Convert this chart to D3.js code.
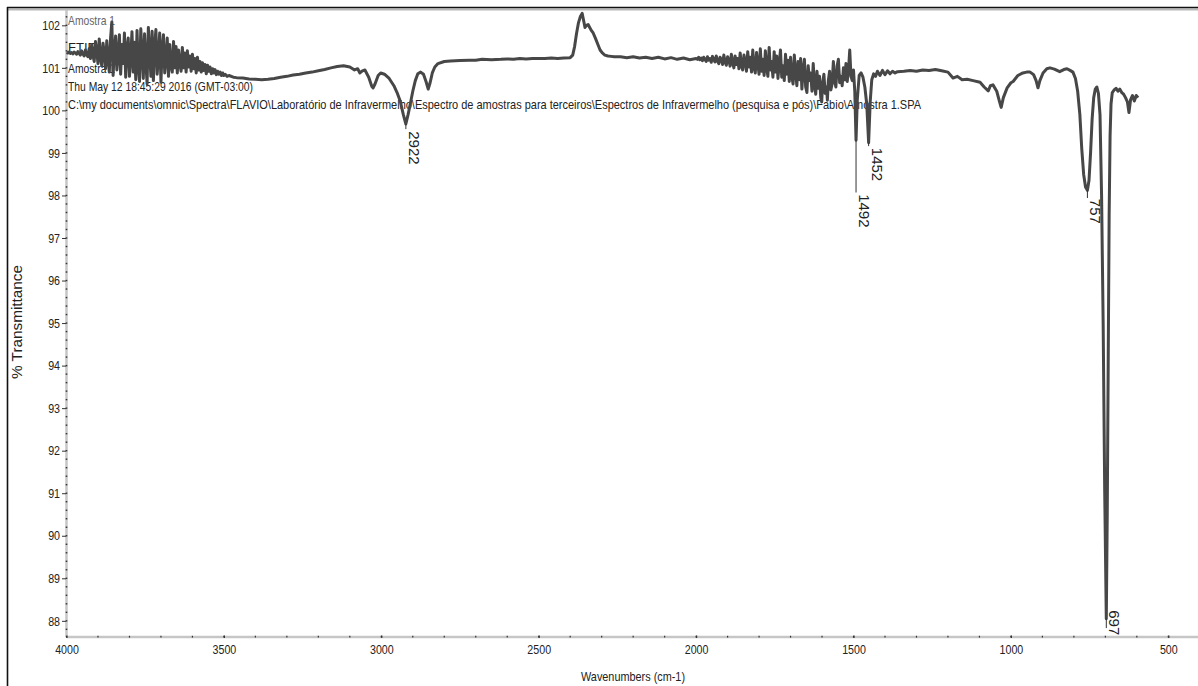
<!DOCTYPE html>
<html><head><meta charset="utf-8">
<script src="https://cdn.jsdelivr.net/npm/d3@7"></script>
<style>
body{margin:0;background:#fff;}
svg{display:block;}
</style></head><body>
<svg id="chart" width="1198" height="686"></svg>
<script>
// ---------- DATA ----------
// [wavenumber (cm-1), % transmittance]
const spectrum = [
[4000,101.36],[3996,101.35],[3992,101.37],[3988,101.34],[3984,101.36],[3980,101.33],[3976,101.37],[3972,101.35],
[3968,101.32],[3964,101.38],[3960,101.34],[3956,101.30],[3952,101.40],[3948,101.33],[3944,101.28],[3940,101.42],
[3936,101.31],[3932,101.26],[3928,101.45],
[3924,101.22],[3920,101.55],[3916,101.30],[3912,101.15],[3908,101.62],[3904,101.40],[3900,101.10],[3896,101.68],
[3892,101.25],[3888,101.05],[3884,101.58],[3880,101.35],
[3876,100.98],[3872,101.64],[3868,101.20],[3864,100.90],[3860,101.70],[3856,102.08],[3852,100.82],[3848,101.40],
[3844,101.75],[3840,100.95],[3836,101.30],[3832,101.78],[3828,100.85],[3824,101.55],[3820,101.10],[3816,101.82],
[3812,100.78],[3808,101.45],[3804,101.70],[3800,100.80],[3796,101.25],[3792,101.85],[3788,100.90],[3784,101.60],
[3780,100.72],[3776,101.88],[3772,101.05],[3768,100.68],[3764,101.92],[3760,101.35],[3756,100.75],[3752,101.80],
[3748,101.15],[3744,100.62],[3740,101.95],[3736,101.40],[3732,100.80],[3728,101.86],[3724,100.70],[3720,101.50],
[3716,101.90],[3712,100.85],[3708,101.25],[3704,101.82],[3700,100.66],[3696,101.45],[3692,101.78],[3688,100.88],
[3684,101.20],[3680,101.70],[3676,100.80],[3672,101.55],[3668,101.05],[3664,100.90],[3660,101.62],[3656,101.00],
[3652,101.50],[3648,100.88],[3644,101.42],[3640,101.10],[3636,100.92],[3632,101.48],[3628,101.00],[3624,101.35],
[3620,100.90],[3616,101.40],[3612,101.02],[3608,101.28],[3604,100.92],[3600,101.32],[3596,100.98],[3592,101.22],
[3588,100.88],[3584,101.25],[3580,100.95],[3576,101.15],[3572,100.90],[3568,101.12],[3564,100.94],[3560,101.08],
[3556,100.86],[3552,101.06],[3548,100.92],[3544,101.02],[3540,100.86],[3536,100.98],[3532,100.88],[3528,100.96],
[3524,100.84],[3520,100.92],[3516,100.85],[3512,100.90],[3508,100.82],[3504,100.88],[3500,100.82],[3496,100.85],
[3490,100.80],[3484,100.82],
[3470,100.78],[3460,100.77],[3440,100.76],[3420,100.74],[3400,100.73],[3380,100.72],[3360,100.73],[3340,100.75],
[3320,100.78],[3300,100.80],[3280,100.83],[3260,100.85],[3240,100.88],[3220,100.90],[3200,100.93],[3180,100.96],
[3160,101.00],[3140,101.03],[3120,101.05],[3100,101.02],[3085,100.95],[3075,100.98],[3068,100.88],[3060,100.93],
[3052,100.95],[3040,100.78],[3030,100.56],[3026,100.53],[3020,100.62],[3010,100.82],[3002,100.88],[2990,100.85],
[2975,100.75],[2960,100.58],[2950,100.42],[2940,100.22],[2930,99.90],[2922,99.68],[2915,99.90],[2908,100.15],
[2900,100.45],[2892,100.70],[2884,100.86],[2875,100.90],[2866,100.85],[2858,100.68],[2851,100.50],[2845,100.65],
[2838,100.88],[2830,101.02],[2820,101.10],[2800,101.15],[2780,101.16],[2750,101.17],[2720,101.18],[2700,101.18],
[2680,101.20],[2650,101.19],[2620,101.20],[2600,101.21],[2580,101.20],[2560,101.22],[2540,101.21],[2520,101.22],
[2500,101.22],[2480,101.22],[2460,101.23],[2440,101.22],[2420,101.23],[2400,101.24],[2392,101.30],[2386,101.50],
[2380,101.80],[2374,102.05],[2368,102.20],[2362,102.28],[2357,102.10],[2353,101.95],[2348,102.00],[2343,102.02],
[2338,101.95],[2333,101.88],[2327,101.82],[2320,101.70],[2312,101.55],[2305,101.42],[2298,101.35],[2290,101.30],
[2280,101.28],[2270,101.27],[2260,101.26],[2250,101.26],
[2240,101.26],[2220,101.24],[2200,101.26],[2180,101.23],[2160,101.25],[2140,101.22],[2120,101.25],[2100,101.21],
[2080,101.24],[2060,101.20],[2040,101.23],[2020,101.19],
[2000,101.22],[1996,101.20],[1992,101.25],[1988,101.19],[1984,101.23],[1980,101.17],[1976,101.25],[1972,101.20],
[1968,101.15],[1964,101.26],[1960,101.18],[1956,101.22],[1952,101.13],[1948,101.27],[1944,101.19],[1940,101.14],
[1936,101.28],[1932,101.16],[1928,101.10],[1924,101.25],[1920,101.20],[1916,101.08],[1912,101.30],[1908,101.14],
[1904,101.06],[1900,101.26],[1896,101.18],[1892,101.04],[1888,101.32],[1884,101.12],[1880,101.00],[1876,101.28],
[1872,101.08],[1868,101.22],[1864,100.98],[1860,101.35],[1856,101.05],[1852,100.95],[1848,101.30],[1844,101.15],
[1840,100.92],[1836,101.38],[1832,101.02],[1828,101.25],[1824,100.90],[1820,101.42],[1816,101.00],[1812,100.88],
[1808,101.36],[1804,101.10],[1800,100.85],[1796,101.45],[1792,100.92],[1788,101.20],[1784,100.82],[1780,101.40],
[1776,101.00],[1772,100.80],[1768,101.48],[1764,100.95],[1760,101.15],[1756,100.78],[1752,101.38],[1748,100.90],
[1744,101.28],[1740,100.75],[1736,101.10],[1732,101.42],[1728,100.78],[1724,101.05],[1720,100.70],[1716,101.32],
[1712,100.85],[1708,101.18],[1704,100.68],[1700,101.25],[1696,100.80],[1692,100.62],[1688,101.30],[1684,100.90],
[1680,100.58],[1676,101.15],[1672,100.72],[1668,101.22],[1664,100.50],[1660,100.95],[1656,101.20],[1652,100.55],
[1648,100.42],[1644,101.05],[1640,100.70],[1636,100.88],[1632,100.45],[1628,101.10],[1624,100.60],[1620,100.38],
[1616,100.92],[1612,100.52],[1608,100.80],[1604,100.30],[1601,100.20],[1598,100.65],[1594,100.85],[1590,100.40],
[1586,100.55],[1583,100.24],[1580,100.70],[1576,100.92],[1572,100.48],[1568,100.62],[1564,101.15],[1560,100.70],
[1556,100.55],[1552,101.05],[1548,101.20],[1544,100.65],[1540,100.80],[1536,100.58],[1532,101.00],[1528,100.72],
[1524,101.10],[1520,100.68],[1516,100.95],[1512,101.42],[1508,100.80],[1504,100.70],[1500,100.95],[1496,100.45],
[1492,99.30],[1488,100.25],[1482,100.82],[1476,100.88],[1470,100.78],
[1464,100.55],[1458,100.15],[1452,99.24],[1447,100.20],[1442,100.72],[1436,100.86],[1430,100.80],[1424,100.92],
[1416,100.82],[1408,100.94],[1400,100.84],[1392,100.93],[1384,100.86],[1376,100.92],[1368,100.88],[1360,100.91],
[1340,100.92],[1320,100.94],[1300,100.92],[1280,100.95],[1260,100.94],[1240,100.96],[1220,100.93],[1200,100.90],
[1184,100.76],[1170,100.80],[1155,100.72],[1139,100.73],[1120,100.70],[1098,100.66],[1085,100.55],[1072,100.46],
[1065,100.58],[1057,100.60],[1045,100.45],[1036,100.20],[1031,100.07],[1024,100.30],[1012,100.53],[1000,100.65],
[993,100.68],[978,100.82],[962,100.88],[950,100.90],[939,100.90],[928,100.84],[920,100.70],[914,100.53],
[908,100.70],[898,100.88],[886,100.98],[876,101.00],[862,100.97],[845,100.91],[832,100.96],[822,100.98],
[812,100.94],[803,100.90],[795,100.75],[788,100.45],[781,99.90],[775,99.10],[769,98.50],[763,98.20],
[757,98.12],[752,98.35],[747,99.00],[742,99.80],[737,100.30],[732,100.50],[727,100.55],[722,100.40],
[717,99.90],[712,98.00],[707,95.00],[702,91.00],[697,88.05],[694,90.50],[691,94.00],[688,97.50],
[685,99.40],[682,100.15],[678,100.42],[672,100.48],[666,100.52],[660,100.45],[654,100.50],[648,100.42],
[642,100.38],[636,100.30],[630,100.20],[625,99.95],[620,100.25],[614,100.35],[608,100.22],[602,100.35],[596,100.30]
];

const peakLabels      = ["2922", "1492", "1452", "757", "697"];
const peakWavenumbers = [2922, 1492, 1452, 757, 697];
const peakLabelTop    = [99.51, 98.03, 99.12, 97.92, 88.25];   // %T where label text starts
const peakLeaderEnd   = [99.56, 98.07, 99.16, 97.94, 87.83];   // %T where leader line ends

const xTickValues = [4000, 3500, 3000, 2500, 2000, 1500, 1000, 500];
const yTickValues = [88, 89, 90, 91, 92, 93, 94, 95, 96, 97, 98, 99, 100, 101, 102];

const headerLines = [
  "Amostra 1",
  "FTIR",
  "Amostra 1",
  "Thu May 12 18:45:29 2016 (GMT-03:00)",
  "C:\\my documents\\omnic\\Spectra\\FLAVIO\\Laboratório de Infravermelho\\Espectro de amostras para terceiros\\Espectros de Infravermelho (pesquisa e pós)\\Fabio\\Amostra 1.SPA"
];
const xAxisTitle = "Wavenumbers (cm-1)";
const yAxisTitle = "% Transmittance";

// ---------- CHART ----------
const svg = d3.select("#chart");
const FONT = "'Liberation Sans', Arial, sans-serif";
const NARROW = 0.82;

const x = d3.scaleLinear().domain([4000, 400]).range([66.5, 1199.8]);
const y = d3.scaleLinear().domain([87.62, 102.36]).range([637, 10]);

function narrow(sel) {
  sel.each(function () {
    const w = this.getComputedTextLength();
    this.setAttribute("textLength", w * NARROW);
    this.setAttribute("lengthAdjust", "spacingAndGlyphs");
  });
}

// frame
svg.append("line").attr("x1", 7).attr("x2", 1198).attr("y1", 9.5).attr("y2", 9.5)
  .attr("stroke", "#b8b8b8").attr("stroke-width", 2);
svg.append("line").attr("x1", 7).attr("x2", 1198).attr("y1", 7.5).attr("y2", 7.5)
  .attr("stroke", "#111").attr("stroke-width", 1.6);
svg.append("line").attr("x1", 7.5).attr("x2", 7.5).attr("y1", 7).attr("y2", 686)
  .attr("stroke", "#111").attr("stroke-width", 1.6);

// axis lines
svg.append("line").attr("x1", x(4000)).attr("x2", x(4000)).attr("y1", y(102.36)).attr("y2", y(87.62))
  .attr("stroke", "#c6c6c6").attr("stroke-width", 2.5);
svg.append("line").attr("x1", x(4000)).attr("x2", 1198).attr("y1", y(87.62)).attr("y2", y(87.62))
  .attr("stroke", "#c6c6c6").attr("stroke-width", 2.5);

// y minor / major ticks
const yMinor = d3.range(87.8, 102.36, 0.2);
svg.append("g").selectAll("line").data(yMinor).join("line")
  .attr("x1", x(4000) - 0.8).attr("x2", x(4000) + 0.8)
  .attr("y1", d => y(d)).attr("y2", d => y(d))
  .attr("stroke", "#333").attr("stroke-width", 1.4);

const yAxis = d3.axisLeft(y).tickValues(yTickValues).tickSize(4).tickPadding(2).tickFormat(d3.format("d"));
const gy = svg.append("g").attr("transform", `translate(${x(4000) - 0.5},0)`).call(yAxis);
gy.select(".domain").remove();
gy.selectAll(".tick line").attr("stroke", "#333");
gy.selectAll(".tick text").attr("font-family", FONT).attr("font-size", 13).attr("fill", "#222");
narrow(gy.selectAll(".tick text"));

// x minor / major ticks
const xMinor = d3.range(4000, 400, -100);
svg.append("g").selectAll("line").data(xMinor).join("line")
  .attr("x1", d => x(d)).attr("x2", d => x(d))
  .attr("y1", y(87.62) - 1.2).attr("y2", y(87.62) + 0.6)
  .attr("stroke", "#333").attr("stroke-width", 1.2);

const xAxis = d3.axisBottom(x).tickValues(xTickValues).tickSize(2.5).tickPadding(7).tickFormat(d3.format("d"));
const gx = svg.append("g").attr("transform", `translate(0,${y(87.62) - 1.5})`).call(xAxis);
gx.select(".domain").remove();
gx.selectAll(".tick line").attr("stroke", "#333").attr("stroke-width", 1.2);
gx.selectAll(".tick text").attr("font-family", FONT).attr("font-size", 13).attr("fill", "#222");
narrow(gx.selectAll(".tick text"));

// axis titles
const xt = svg.append("text").attr("x", 633).attr("y", 680.5).attr("text-anchor", "middle")
  .attr("font-family", FONT).attr("font-size", 13).attr("fill", "#222")
  .attr("textLength", 104).attr("lengthAdjust", "spacingAndGlyphs").text(xAxisTitle);
svg.append("text").attr("transform", "translate(22,322) rotate(-90)").attr("text-anchor", "middle")
  .attr("font-family", FONT).attr("font-size", 14).attr("fill", "#222")
  .attr("textLength", 114).attr("lengthAdjust", "spacingAndGlyphs").text(yAxisTitle);

// header text block
const headerY = [24.5, 51.5, 72.5, 90.5, 108.5];
const headerLen = [47, null, 47, 185, 853];
svg.append("g").selectAll("text").data(headerLines).join("text")
  .attr("x", 68).attr("y", (d, i) => headerY[i])
  .attr("font-family", FONT).attr("font-size", 13)
  .attr("fill", (d, i) => i === 0 ? "#666" : "#222")
  .each(function (d, i) {
    if (headerLen[i]) {
      this.setAttribute("textLength", headerLen[i]);
      this.setAttribute("lengthAdjust", "spacingAndGlyphs");
    }
  })
  .text(d => d);

// spectrum
const line = d3.line().x(d => x(d[0])).y(d => y(d[1]));
svg.append("path").datum(spectrum).attr("d", line)
  .attr("fill", "none").attr("stroke", "#474747").attr("stroke-width", 3)
  .attr("stroke-linejoin", "round");

// peak labels
const tAt = new Map(spectrum.map(d => [d[0], d[1]]));
const peaks = peakLabels.map((lab, i) => ({
  lab, wn: peakWavenumbers[i], min: tAt.get(peakWavenumbers[i]),
  top: peakLabelTop[i], lead: peakLeaderEnd[i]
}));
const pg = svg.append("g");
pg.selectAll("line").data(peaks).join("line")
  .attr("x1", d => x(d.wn)).attr("x2", d => x(d.wn))
  .attr("y1", d => y(d.min)).attr("y2", d => y(d.lead))
  .attr("stroke", "#333").attr("stroke-width", 1);
pg.selectAll("text").data(peaks).join("text")
  .attr("transform", d => `translate(${x(d.wn) + 3},${y(d.top)}) rotate(90)`)
  .attr("font-family", FONT).attr("font-size", 15).attr("fill", "#222")
  .text(d => d.lab);
</script>
</body></html>
